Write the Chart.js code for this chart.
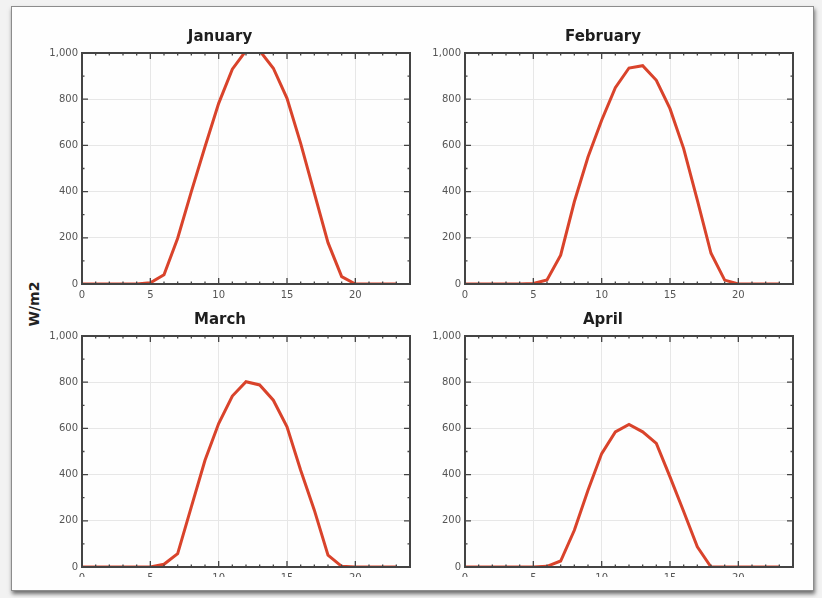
<!DOCTYPE html>
<html>
<head>
<meta charset="utf-8">
<script src="https://cdn.jsdelivr.net/npm/chart.js@4.4.1/dist/chart.umd.min.js"></script>
<style>
  html, body { margin: 0; padding: 0; width: 822px; height: 598px; overflow: hidden; background: #f2f2f2; }
  .frame {
    position: absolute; left: 11px; top: 6px; width: 801px; height: 583px;
    background: #fefefe; border: 1px solid #8c8c8c;
    box-shadow: 1px 3px 4px rgba(0,0,0,0.55);
  }
  canvas { position: absolute; }
  #ylabel {
    position: absolute; left: 34px; top: 304px;
    transform: translate(-50%, -50%) rotate(-90deg);
    font: bold 14px "DejaVu Sans", sans-serif; color: #222; white-space: nowrap;
  }
</style>
</head>
<body>
<div class="frame"></div>
<div id="ylabel">W/m2</div>
<canvas id="jan"></canvas>
<canvas id="feb"></canvas>
<canvas id="mar"></canvas>
<canvas id="apr"></canvas>
<script>
// hours of the day
const hours = [0,1,2,3,4,5,6,7,8,9,10,11,12,13,14,15,16,17,18,19,20,21,22,23];

// irradiance per month (W/m2)
const january  = [0,0,0,0,0,5,40,198,400,594,782,930,1010,1010,934,804,609,393,179,32,0,0,0,0];
const february = [0,0,0,0,0,2,17,125,356,550,709,850,935,945,882,759,586,363,133,17,0,0,0,0];
const march    = [0,0,0,0,0,0,12,58,260,462,621,740,802,788,722,607,419,246,51,3,0,0,0,0];
const april    = [0,0,0,0,0,0,3,26,159,332,491,585,617,585,535,390,240,87,0,0,0,0,0,0];

const lineColor = '#d9432b';

// frame + inward tick marks on all four sides
const framePlugin = {
    id: 'frameTicks',
    afterDraw(chart) {
        const { ctx, chartArea: a, scales } = chart;
        ctx.save();
        ctx.strokeStyle = '#444';
        ctx.lineWidth = 2;
        ctx.strokeRect(a.left, a.top, a.right - a.left, a.bottom - a.top);
        ctx.lineWidth = 1.3;
        ctx.beginPath();
        for (let v = 0; v <= 24; v++) {
            const px = scales.x.getPixelForValue(v);
            const len = v % 5 === 0 ? 6 : 2.5;
            ctx.moveTo(px, a.bottom); ctx.lineTo(px, a.bottom - len);
            ctx.moveTo(px, a.top); ctx.lineTo(px, a.top + len);
        }
        for (let v = 0; v <= 1000; v += 100) {
            const py = scales.y.getPixelForValue(v);
            const len = v % 200 === 0 ? 6 : 2.5;
            ctx.moveTo(a.left, py); ctx.lineTo(a.left + len, py);
            ctx.moveTo(a.right, py); ctx.lineTo(a.right - len, py);
        }
        ctx.stroke();
        ctx.restore();
    }
};

function makeChart(id, title, values, left, top, xAxisHeight) {
    const canvas = document.getElementById(id);
    const plotH = 231;
    const height = 30 + plotH + xAxisHeight;
    canvas.width = 414; canvas.height = height;
    canvas.style.left = left + 'px'; canvas.style.top = top + 'px';
    canvas.style.width = '414px'; canvas.style.height = height + 'px';

    return new Chart(canvas.getContext('2d'), {
        type: 'line',
        data: {
            datasets: [{
                data: hours.map((h, i) => ({ x: h, y: values[i] })),
                borderColor: lineColor,
                borderWidth: 3,
                pointRadius: 0,
                tension: 0,
                fill: false
            }]
        },
        options: {
            responsive: false,
            animation: false,
            devicePixelRatio: 1,
            layout: { padding: { left: 0, right: 34, top: 0, bottom: 0 } },
            plugins: {
                legend: { display: false },
                tooltip: { enabled: false },
                title: {
                    display: true, text: title, color: '#1e1e1e',
                    font: { family: 'DejaVu Sans', size: 15, weight: 'bold', lineHeight: 1.2 },
                    padding: { top: 5, bottom: 7 }
                }
            },
            scales: {
                x: {
                    type: 'linear', min: 0, max: 24,
                    afterFit(s) { s.height = xAxisHeight; },
                    border: { display: false },
                    grid: {
                        drawTicks: false,
                        color: c => (c.tick && c.tick.value % 5 === 0) ? '#e7e7e7' : 'rgba(0,0,0,0)'
                    },
                    ticks: {
                        stepSize: 1, autoSkip: false, maxRotation: 0, padding: 5,
                        color: '#555', font: { family: 'DejaVu Sans', size: 10 },
                        callback: v => (v % 5 === 0 && v < 24) ? String(v) : ''
                    }
                },
                y: {
                    min: 0, max: 1000,
                    afterFit(s) { s.width = 52; },
                    border: { display: false },
                    grid: {
                        drawTicks: false,
                        color: c => (c.tick && c.tick.value % 200 === 0) ? '#e7e7e7' : 'rgba(0,0,0,0)'
                    },
                    ticks: {
                        stepSize: 100, autoSkip: false, padding: 4,
                        color: '#555', font: { family: 'DejaVu Sans', size: 10 },
                        callback: v => v % 200 === 0 ? v.toLocaleString('en-US') : ''
                    }
                }
            }
        },
        plugins: [framePlugin]
    });
}

makeChart('jan', 'January', january, 30, 23, 22);
makeChart('feb', 'February', february, 413, 23, 22);
makeChart('mar', 'March', march, 30, 306, 10);
makeChart('apr', 'April', april, 413, 306, 10);
</script>
</body>
</html>
